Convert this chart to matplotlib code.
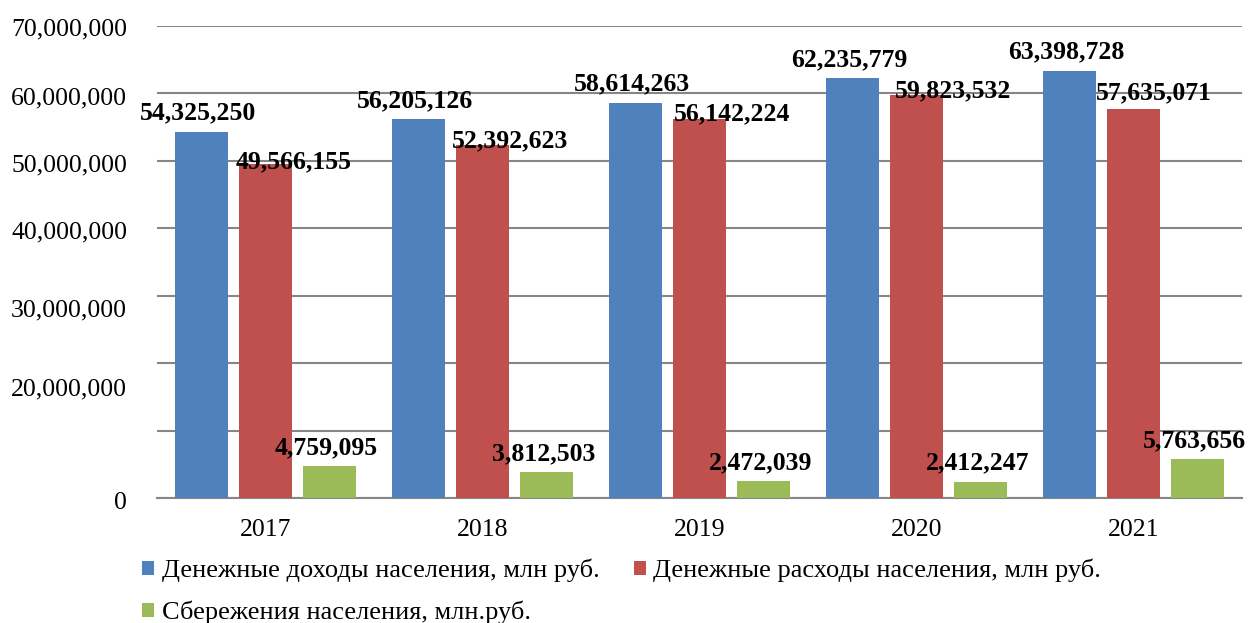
import matplotlib.pyplot as plt
import matplotlib.transforms as mtransforms
import numpy as np

plt.rcParams['font.family'] = ['Liberation Serif', 'DejaVu Serif']

years = ["2017", "2018", "2019", "2020", "2021"]
incomes = [54325250, 56205126, 58614263, 62235779, 63398728]
expenses = [49566155, 52392623, 56142224, 59823532, 57635071]
savings = [4759095, 3812503, 2472039, 2412247, 5763656]

names = ["Денежные доходы населения, млн руб.",
         "Денежные расходы населения, млн руб.",
         "Сбережения населения, млн.руб."]
colors = ["#4F81BD", "#C0504D", "#9BBB59"]

yticks = [0, 10000000, 20000000, 30000000, 40000000, 50000000, 60000000, 70000000]
ytick_labels = ["0", "", "20,000,000", "30,000,000", "40,000,000", "50,000,000", "60,000,000", "70,000,000"]

fig = plt.figure(figsize=(12.5, 6.23), dpi=100)
ax = fig.add_axes([0.1256, 0.2006, 0.868, 0.7576])

x = np.arange(len(years))
w = 0.24
off = 0.295
b1 = ax.bar(x - off, incomes, w, color=colors[0], label=names[0], zorder=3)
b2 = ax.bar(x, expenses, w, color=colors[1], label=names[1], zorder=3)
b3 = ax.bar(x + off, savings, w, color=colors[2], label=names[2], zorder=3)

ax.set_xlim(-0.5, 4.5)
ax.set_ylim(0, 70000000)
ax.set_yticks(yticks)
ax.set_yticklabels(ytick_labels)
ax.set_xticks(x)
ax.set_xticklabels(years)
ax.tick_params(axis="y", length=0, pad=21.6, labelsize=18.5)
ax.tick_params(axis="x", length=0, pad=15, labelsize=18.5)
ax.grid(axis="y", color="#868686", linewidth=1.5, zorder=0)
for s in ["top", "right", "left"]:
    ax.spines[s].set_visible(False)
ax.spines["bottom"].set_color("#868686")
ax.spines["bottom"].set_linewidth(1.5)

# labels in the original sit a bit off their grid lines
label_shift = [2, 0, 24, 12, 2, 2, 2, 1]
for lab, d in zip(ax.get_yticklabels(), label_shift):
    lab.set_transform(lab.get_transform() +
                      mtransforms.ScaledTranslation(0, -d / 100, fig.dpi_scale_trans))

# value labels
red_dx = [28, 28, 33, 37, 20]
red_dy = [-4, -3, -1, -3, 10]
for i in range(len(years)):
    ax.annotate(f"{incomes[i]:,}", (x[i] - off, incomes[i]), xytext=(-3, 12),
                textcoords="offset pixels", ha="center", va="baseline",
                fontsize=18.5, fontweight="bold", zorder=5)
    ax.annotate(f"{expenses[i]:,}", (x[i], expenses[i]), xytext=(red_dx[i], red_dy[i]),
                textcoords="offset pixels", ha="center", va="baseline",
                fontsize=18.5, fontweight="bold", zorder=5)
    ax.annotate(f"{savings[i]:,}", (x[i] + off, savings[i]), xytext=(-3, 12),
                textcoords="offset pixels", ha="center", va="baseline",
                fontsize=18.5, fontweight="bold", zorder=5)

# row-major order: doxody, raskhody on row 1, sberezheniya on row 2
fig.legend(handles=[b1, b3, b2], loc="upper left", bbox_to_anchor=(0.105, 0.12),
           ncol=2, frameon=False, fontsize=19, handlelength=0.45, handleheight=0.45,
           handletextpad=0.3, columnspacing=1.3, labelspacing=0.7, borderaxespad=0)

fig.savefig("out.png", dpi=100)
